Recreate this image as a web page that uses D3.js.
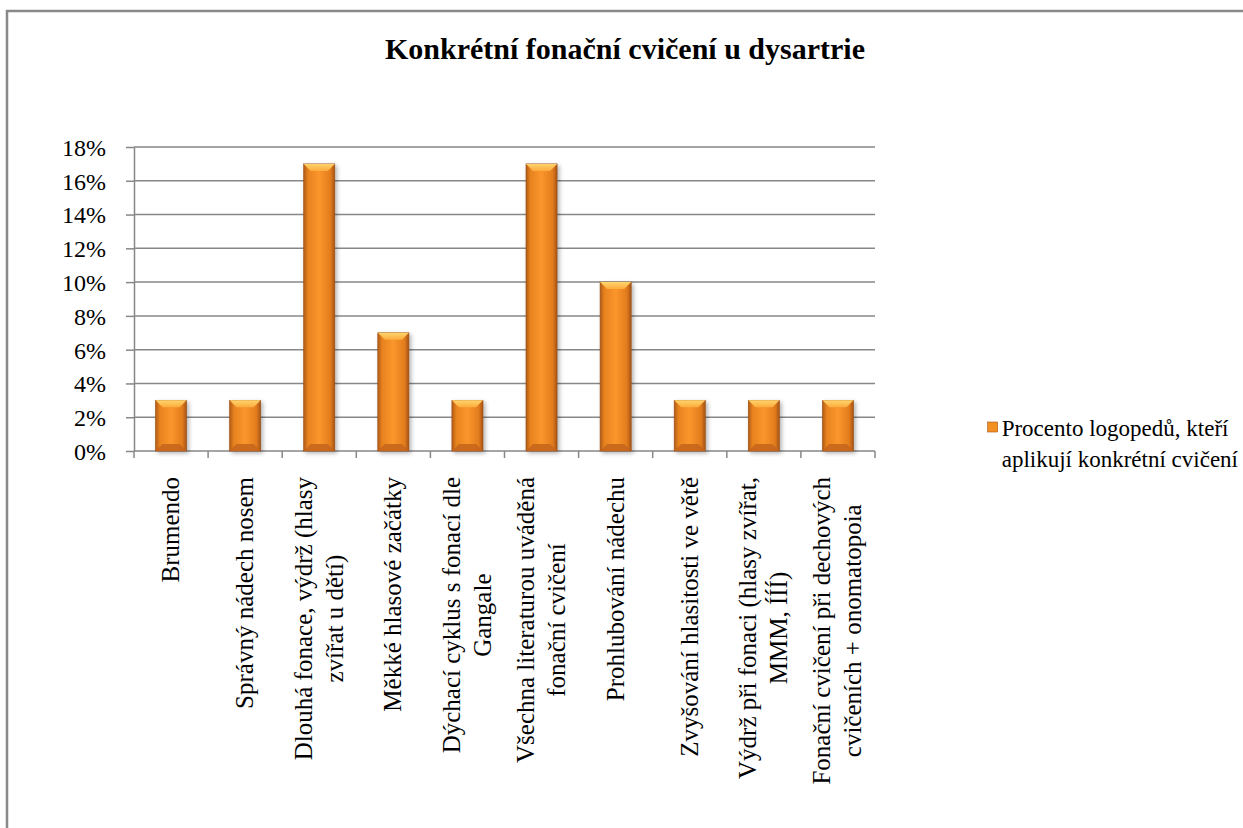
<!DOCTYPE html>
<html>
    <head>
        <title>Konkrétní fonační cvičení u dysartrie</title>
        <meta charset="utf-8">
        <script src="https://d3js.org/d3.v7.min.js"></script>
        <style>
            body { margin: 0; background: #fff; }
            text { font-family: "Liberation Serif", "Times New Roman", serif; fill: #000; }
        </style>
    </head>
    <body>
        <svg height="828" width="1243">
            <script type="text/javascript">
                var categories = [
                    ["Brumendo"],
                    ["Správný nádech nosem"],
                    ["Dlouhá fonace, výdrž (hlasy", "zvířat u dětí)"],
                    ["Měkké hlasové začátky"],
                    ["Dýchací cyklus s fonací dle", "Gangale"],
                    ["Všechna literaturou uváděná", "fonační cvičení"],
                    ["Prohlubování nádechu"],
                    ["Zvyšování hlasitosti ve větě"],
                    ["Výdrž při fonaci (hlasy zvířat,", "MMM, ÍÍÍ)"],
                    ["Fonační cvičení při dechových", "cvičeních + onomatopoia"]
                ];
                var values = [3, 3, 17, 7, 3, 17, 10, 3, 3, 3];
                var yTicks = [0, 2, 4, 6, 8, 10, 12, 14, 16, 18];
                var seriesName = ["Procento logopedů, kteří", "aplikují konkrétní cvičení"];
                var chartTitle = "Konkrétní fonační cvičení u dysartrie";

                var plotLeft = 134, plotRight = 875, plotTop = 147, plotBottom = 451;
                var svg = d3.select("svg");

                var defs = svg.append("defs");
                var side = defs.append("linearGradient").attr("id", "side");
                side.append("stop").attr("offset", "0%").attr("stop-color", "#b05a16");
                side.append("stop").attr("offset", "14%").attr("stop-color", "#e8831f");
                side.append("stop").attr("offset", "50%").attr("stop-color", "#fa962c");
                side.append("stop").attr("offset", "86%").attr("stop-color", "#e27c1d");
                side.append("stop").attr("offset", "100%").attr("stop-color", "#a55317");
                var topG = defs.append("linearGradient").attr("id", "topbev")
                    .attr("x1", 0).attr("y1", 0).attr("x2", 0).attr("y2", 1);
                topG.append("stop").attr("offset", "0%").attr("stop-color", "#ffd46c");
                topG.append("stop").attr("offset", "100%").attr("stop-color", "#fcab3e");
                var shadow = defs.append("filter").attr("id", "shadow")
                    .attr("x", "-20%").attr("y", "-5%").attr("width", "150%").attr("height", "115%");
                shadow.append("feDropShadow").attr("dx", 2).attr("dy", 2)
                    .attr("stdDeviation", 2).attr("flood-color", "#000").attr("flood-opacity", 0.3);

                // outer chart border (cut off at the right and bottom)
                svg.append("rect")
                    .attr("x", 7).attr("y", 11)
                    .attr("width", 1300).attr("height", 900)
                    .attr("fill", "none")
                    .attr("stroke", "#898989")
                    .attr("stroke-width", 2.5);

                svg.append("text")
                    .attr("x", 625).attr("y", 59)
                    .attr("text-anchor", "middle")
                    .style("font-size", "30px")
                    .style("font-weight", "bold")
                    .text(chartTitle);

                var x = d3.scaleBand()
                    .domain(d3.range(categories.length))
                    .range([plotLeft, plotRight])
                    .paddingInner(0.58)
                    .paddingOuter(0.29);

                var y = d3.scaleLinear()
                    .domain([0, 18])
                    .range([plotBottom, plotTop]);

                // gridlines
                svg.append("g")
                    .selectAll("line")
                    .data(yTicks.slice(1))
                    .enter()
                    .append("line")
                    .attr("x1", plotLeft).attr("x2", plotRight)
                    .attr("y1", function(d) { return y(d); })
                    .attr("y2", function(d) { return y(d); })
                    .attr("stroke", "#878787")
                    .attr("stroke-width", 1.5);

                // y axis
                var yAxis = svg.append("g")
                    .attr("transform", "translate(" + plotLeft + ",0)")
                    .call(d3.axisLeft(y).tickValues(yTicks).tickSize(8).tickSizeOuter(0).tickPadding(20)
                        .tickFormat(function(d) { return d + "%"; }));
                yAxis.select(".domain").attr("stroke", "#878787").attr("stroke-width", 1.5);
                yAxis.selectAll(".tick line").attr("stroke", "#878787").attr("stroke-width", 1.5);
                yAxis.selectAll(".tick text")
                    .attr("dy", "0.35em")
                    .attr("fill", "#000")
                    .style("font-family", "'Liberation Serif', serif")
                    .style("font-size", "24px");

                // x axis line + boundary ticks
                svg.append("line")
                    .attr("x1", plotLeft).attr("x2", plotRight)
                    .attr("y1", plotBottom).attr("y2", plotBottom)
                    .attr("stroke", "#878787").attr("stroke-width", 1.5);
                svg.append("g")
                    .selectAll("line")
                    .data(d3.range(categories.length + 1))
                    .enter()
                    .append("line")
                    .attr("x1", function(d) { return plotLeft + d * x.step(); })
                    .attr("x2", function(d) { return plotLeft + d * x.step(); })
                    .attr("y1", plotBottom).attr("y2", plotBottom + 7)
                    .attr("stroke", "#878787").attr("stroke-width", 1.5);

                // bars
                var bw = x.bandwidth(), bev = 7;
                var bars = svg.append("g")
                    .selectAll("g")
                    .data(values)
                    .enter()
                    .append("g")
                    .attr("filter", "url(#shadow)");

                bars.append("rect")
                    .attr("x", function(d, i) { return x(i); })
                    .attr("y", function(d) { return y(d); })
                    .attr("width", bw)
                    .attr("height", function(d) { return plotBottom - y(d); })
                    .attr("fill", "url(#side)")
                    .attr("stroke", "#9a4e14")
                    .attr("stroke-width", 0.6);

                bars.append("path")
                    .attr("d", function(d, i) {
                        var x0 = x(i), x1 = x(i) + bw, y0 = y(d);
                        return "M" + x0 + "," + y0 + "L" + x1 + "," + y0 + "L" + (x1 - bev) + "," + (y0 + bev) +
                            "L" + (x0 + bev) + "," + (y0 + bev) + "Z";
                    })
                    .attr("fill", "url(#topbev)");

                bars.append("path")
                    .attr("d", function(d, i) {
                        var x0 = x(i), x1 = x(i) + bw, y1 = plotBottom;
                        return "M" + x0 + "," + y1 + "L" + x1 + "," + y1 + "L" + (x1 - bev) + "," + (y1 - bev) +
                            "L" + (x0 + bev) + "," + (y1 - bev) + "Z";
                    })
                    .attr("fill", "#c4641b")
                    .attr("opacity", 0.85);

                // category labels, rotated
                var labelTop = 477, lineH = 31;
                var labels = svg.append("g")
                    .selectAll("text")
                    .data(categories)
                    .enter()
                    .append("text")
                    .style("font-size", "25px")
                    .attr("text-anchor", "middle");

                labels.each(function(lines, i) {
                    var t = d3.select(this);
                    var spans = t.selectAll("tspan")
                        .data(lines)
                        .enter()
                        .append("tspan")
                        .text(function(d) { return d; });
                    var maxLen = 0;
                    spans.each(function() { maxLen = Math.max(maxLen, this.getComputedTextLength()); });
                    var cx = x(i) + bw / 2;
                    var first = -(lines.length - 1) * lineH / 2 + 8;
                    spans.attr("x", -(labelTop + maxLen / 2))
                        .attr("y", function(d, j) { return first + j * lineH; });
                    t.attr("transform", "translate(" + cx + ",0) rotate(-90)");
                });

                // legend, right-aligned to the picture edge
                var legend = svg.append("g");
                var legendText = legend.append("text")
                    .style("font-size", "23px");
                var legendSpans = legendText.selectAll("tspan")
                    .data(seriesName)
                    .enter()
                    .append("tspan")
                    .attr("y", function(d, i) { return 436 + i * 31; })
                    .text(function(d) { return d; });
                var legendW = 0;
                legendSpans.each(function() { legendW = Math.max(legendW, this.getComputedTextLength()); });
                var legendX = 1238 - legendW;
                legendSpans.attr("x", legendX);
                legend.append("rect")
                    .attr("x", legendX - 14).attr("y", 422)
                    .attr("width", 10).attr("height", 10)
                    .attr("fill", "#f39024")
                    .attr("stroke", "#a95518").attr("stroke-width", 0.6);
            </script>
        </svg>
    </body>
</html>
